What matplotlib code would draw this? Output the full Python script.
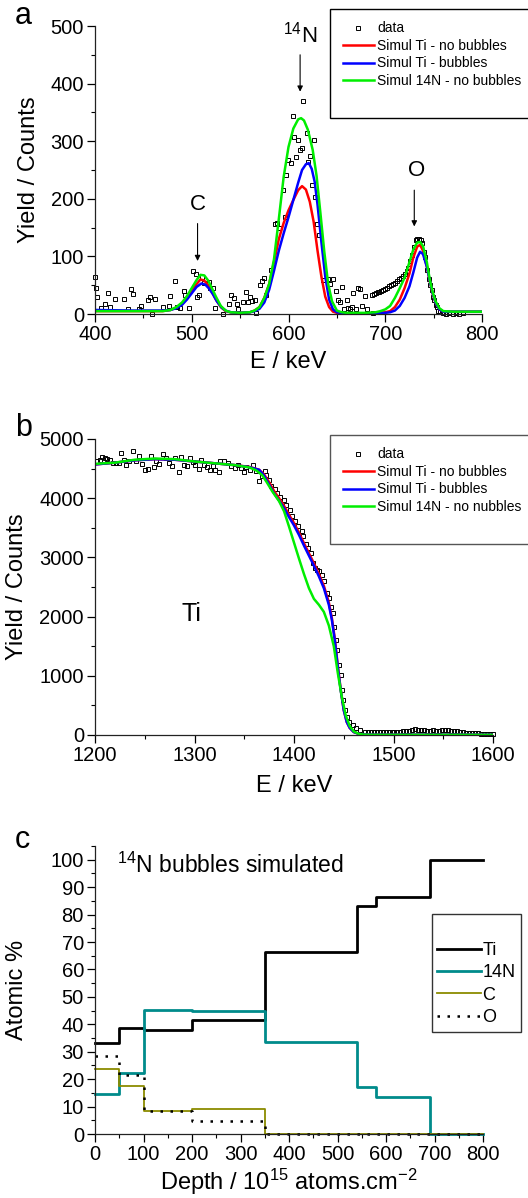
import matplotlib
matplotlib.use("Agg")
import matplotlib.pyplot as plt
from matplotlib.lines import Line2D
from matplotlib.ticker import MultipleLocator

plt.rcParams['font.family'] = ['Liberation Sans', 'DejaVu Sans']
plt.rcParams['mathtext.fontset'] = 'custom'
plt.rcParams['mathtext.rm'] = 'Liberation Sans'

# ---- panel a : light elements region ----
a_data_E = [400, 401, 402, 406, 410, 413, 416, 421, 430, 434, 437, 439, 445, 448, 455, 457, 459, 462,
            470, 476, 478, 483, 485, 488, 492, 493, 497, 501, 504, 505, 507, 511, 513, 518, 519, 522,
            524, 532, 538, 541, 544, 547, 548, 553, 556, 558, 560, 562, 565, 566, 571, 573, 575, 577,
            582, 586, 588, 590, 594, 596, 597, 599, 603, 605, 606, 608, 610, 612, 614, 615, 619, 620,
            622, 624, 626, 627, 629, 632, 636, 641, 643, 646, 649, 651, 653, 655, 657, 660, 662, 664,
            666, 667, 670, 672, 674, 676, 679, 681, 687,
            686, 688, 690, 692, 694, 696, 698, 700, 702, 704, 706, 708, 710, 712, 714, 716, 718, 720,
            722, 724, 726, 728, 730, 732, 733, 735, 737, 738, 740, 741, 743, 745, 746, 748, 749, 750,
            752, 753, 755, 757, 760, 763, 766, 770, 773, 776, 780]
a_data_Y = [65, 45, 30, 10, 18, 36, 13, 26, 26, 8, 43, 34, 8, 14, 25, 30, 0, 26,
            12, 14, 32, 57, 13, 10, 40, 33, 10, 75, 70, 30, 33, 65, 54, 56, 46, 46,
            10, 0, 17, 33, 27, 17, 8, 21, 39, 20, 29, 23, 24, 1, 50, 58, 63, 33,
            76, 157, 158, 149, 216, 169, 241, 268, 262, 344, 307, 272, 302, 285, 288, 370, 315, 264,
            274, 224, 302, 203, 156, 137, 59, 60, 52, 60, 40, 24, 21, 47, 8, 25, 10, 9,
            12, 36, 8, 46, 44, 14, 31, 8, 2,
            33, 35, 37, 38, 39, 40, 42, 43, 45, 48, 50, 52, 54, 57, 60, 63, 66, 70,
            74, 80, 92, 102, 117, 128, 130, 131, 129, 124, 108, 99, 76, 60, 50, 42, 30, 25,
            15, 12, 5, 3, 1, 0, 1, 0, 1, 0, 1]

a_red_E = [400, 440, 470, 478, 484, 490, 495, 500, 505, 509, 513, 517, 521, 525, 530, 535, 540, 550,
           560, 565, 570, 575, 580, 585, 590, 595, 600, 605, 610, 614, 618, 622, 626, 630, 634, 638,
           642, 646, 650, 660, 680, 690, 700, 705, 710, 715, 720, 725, 729, 733, 736, 739, 743, 746,
           749, 752, 756, 760, 770, 800]
a_red_Y = [5, 5, 5, 7, 11, 18, 28, 40, 52, 60, 58, 50, 38, 25, 12, 5, 3, 2,
           3, 6, 12, 28, 52, 90, 130, 158, 180, 198, 215, 222, 216, 195, 160, 110, 65, 30,
           12, 4, 2, 1, 1, 2, 3, 5, 12, 25, 45, 70, 98, 117, 120, 110, 82, 57,
           35, 20, 8, 4, 4, 4]

a_blue_E = [400, 440, 470, 478, 484, 490, 495, 500, 505, 510, 514, 518, 522, 526, 531, 536, 541, 550,
            560, 565, 570, 575, 580, 585, 590, 595, 600, 605, 610, 614, 618, 621, 624, 627, 630, 634,
            638, 642, 646, 650, 660, 690, 700, 705, 710, 715, 720, 725, 729, 733, 736, 739, 743, 746,
            749, 752, 756, 760, 770, 800]
a_blue_Y = [7, 6, 6, 7, 10, 16, 25, 36, 47, 53, 51, 44, 34, 22, 11, 5, 3, 2,
            3, 5, 9, 20, 42, 75, 110, 140, 168, 198, 228, 250, 260, 262, 252, 230, 190, 125,
            65, 25, 8, 3, 1, 1, 2, 3, 6, 14, 28, 48, 72, 98, 108, 104, 82, 58,
            36, 20, 8, 4, 4, 4]

a_green_E = [400, 440, 470, 478, 484, 490, 495, 500, 505, 509, 513, 517, 521, 525, 530, 535, 540, 550,
             560, 565, 570, 575, 580, 585, 590, 595, 600, 605, 610, 613, 616, 620, 625, 629, 633, 637,
             641, 645, 650, 655, 660, 680, 690, 695, 700, 705, 710, 715, 720, 725, 729, 733, 736, 739,
             743, 746, 749, 752, 756, 760, 770, 800]
a_green_Y = [5, 5, 5, 7, 12, 20, 31, 45, 59, 68, 67, 58, 44, 30, 14, 6, 3, 2,
             3, 6, 12, 28, 52, 95, 165, 238, 290, 322, 338, 340, 336, 320, 285, 240, 175, 108,
             52, 22, 6, 3, 2, 2, 3, 5, 8, 14, 28, 45, 63, 90, 112, 124, 125, 118,
             90, 60, 38, 22, 10, 5, 4, 4]

# ---- panel b : Ti edge ----
b_data_E = [1202, 1205, 1207, 1210, 1212, 1215, 1218, 1221, 1224, 1226, 1229, 1231, 1234, 1238, 1241,
            1244, 1247, 1250, 1253, 1256, 1259, 1261, 1264, 1268, 1271, 1274, 1277, 1280, 1284, 1286,
            1289, 1292, 1295, 1298, 1301, 1305, 1307, 1310, 1313, 1316, 1319, 1321, 1325, 1326, 1330,
            1334, 1337, 1341, 1344, 1347, 1350, 1352, 1356, 1359, 1362, 1365, 1368, 1371, 1372,
            1375, 1377, 1381, 1383, 1386, 1390, 1392, 1396, 1398, 1401, 1404, 1408, 1409, 1412, 1414,
            1417, 1419, 1421, 1423, 1425, 1428, 1430, 1433, 1435, 1437, 1439, 1440, 1442, 1443, 1445,
            1447, 1448, 1449, 1451, 1453, 1455, 1459, 1462, 1466, 1471, 1474, 1477, 1480, 1483, 1486,
            1489, 1492, 1495, 1498, 1501, 1504, 1507, 1510, 1513, 1516, 1519, 1522, 1525, 1528, 1531,
            1534, 1537, 1540, 1543, 1546, 1549, 1552, 1555, 1558, 1561, 1564, 1567, 1570, 1573, 1576,
            1579, 1582, 1585, 1588, 1591, 1594, 1597, 1600]
b_data_Y = [4622, 4650, 4696, 4679, 4662, 4640, 4594, 4594, 4594, 4763, 4650, 4566, 4622, 4792, 4622,
            4707, 4583, 4482, 4493, 4718, 4527, 4622, 4583, 4752, 4679, 4594, 4549, 4679, 4436, 4696,
            4566, 4549, 4679, 4605, 4566, 4493, 4640, 4566, 4527, 4470, 4549, 4482, 4436, 4622, 4622,
            4594, 4549, 4510, 4566, 4510, 4436, 4527, 4482, 4566, 4453, 4284, 4369, 4453, 4397,
            4313, 4200, 4155, 4087, 4020, 3963, 3890, 3794, 3692, 3608, 3523, 3438, 3354, 3230, 3157,
            3072, 2903, 2819, 2790, 2762, 2706, 2593, 2396, 2311, 2170, 2058, 1832, 1607, 1438, 1184,
            1015, 761, 592, 423, 310, 225, 169, 113, 85, 56, 50, 48, 45, 45, 47,
            45, 48, 45, 47, 50, 52, 55, 60, 70, 75, 85, 95, 90, 85, 80,
            70, 75, 80, 70, 75, 80, 85, 80, 75, 65, 60, 50, 45, 40, 35,
            30, 30, 28, 25, 25, 22, 20, 20]

b_red_E = [1200, 1220, 1240, 1260, 1280, 1300, 1320, 1340, 1355, 1365, 1370, 1375, 1380, 1385, 1390,
           1395, 1400, 1405, 1410, 1415, 1420, 1425, 1430, 1435, 1438, 1441, 1444, 1447, 1450, 1453,
           1456, 1460, 1465, 1470, 1480, 1500, 1600]
b_red_Y = [4570, 4600, 4640, 4660, 4650, 4620, 4590, 4560, 4530, 4480, 4400, 4270, 4120, 4000, 3870,
           3720, 3580, 3420, 3240, 3070, 2900, 2720, 2520, 2240, 1980, 1630, 1170, 760, 420, 220,
           120, 50, 20, 8, 5, 5, 5]
b_blue_Y = [4570, 4600, 4640, 4660, 4650, 4620, 4590, 4560, 4525, 4480, 4380, 4230, 4080, 3960, 3830,
            3680, 3540, 3380, 3200, 3030, 2860, 2680, 2480, 2200, 1950, 1600, 1150, 750, 420, 220,
            120, 50, 20, 8, 5, 5, 5]

b_green_E = [1200, 1220, 1240, 1260, 1280, 1300, 1320, 1340, 1355, 1362, 1368, 1373, 1378, 1385, 1390,
             1395, 1400, 1405, 1410, 1415, 1420, 1425, 1430, 1435, 1440, 1444, 1448, 1452, 1456, 1460,
             1465, 1470, 1480, 1500, 1600]
b_green_Y = [4580, 4600, 4650, 4670, 4660, 4620, 4590, 4560, 4520, 4470, 4390, 4260, 4120, 3950, 3780,
             3520, 3250, 2980, 2720, 2480, 2300, 2200, 2080, 1850, 1500, 1050, 650, 330, 150, 60,
             20, 6, 3, 3, 3]

# ---- panel c : depth profile (layer boundaries + atomic %) ----
depth = [0, 50, 100, 200, 350, 540, 580, 690, 800]
ti = [33, 38.8, 38, 41.6, 66.5, 83, 86.5, 100, 100]
n14 = [14.7, 22.2, 45.3, 44.7, 33.4, 17, 13.5, 0, 0]
carbon = [23.7, 17.4, 8.5, 9.2, 0, 0, 0, 0, 0]
oxygen = [28.5, 21.6, 8.3, 4.6, 0, 0, 0, 0, 0]

fig = plt.figure(figsize=(5.28, 11.98), dpi=100)
W, H = 528, 1198


def box(l, t, r, b):
    return [l / W, 1 - b / H, (r - l) / W, (b - t) / H]


def style(ax, xmaj, xmin, ymaj, ymin):
    for s in ['top', 'right']:
        ax.spines[s].set_visible(False)
    for s in ['left', 'bottom']:
        ax.spines[s].set_linewidth(0.9)
        ax.spines[s].set_color('#222222')
    ax.xaxis.set_major_locator(MultipleLocator(xmaj))
    ax.xaxis.set_minor_locator(MultipleLocator(xmin))
    ax.yaxis.set_major_locator(MultipleLocator(ymaj))
    ax.yaxis.set_minor_locator(MultipleLocator(ymin))
    ax.tick_params(which='major', direction='out', length=6, width=0.9, labelsize=14.5, pad=2)
    ax.tick_params(which='minor', direction='out', length=3, width=0.8)


leg_kw = dict(loc='upper left', bbox_transform=fig.transFigure, fontsize=10, frameon=True,
              fancybox=False, framealpha=1, borderaxespad=0, handlelength=2.3,
              handletextpad=0.2, labelspacing=0.25, borderpad=0.9)

# panel a
ax1 = fig.add_axes(box(95, 26, 482, 314))
ax1.plot(a_data_E, a_data_Y, 's', ms=3.3, mfc='none', mec='k', mew=0.7, label='data', clip_on=False)
ax1.plot(a_red_E, a_red_Y, color='#ff0000', lw=1.8, label='Simul Ti - no bubbles')
ax1.plot(a_blue_E, a_blue_Y, color='#0000ff', lw=1.8, label='Simul Ti - bubbles')
ax1.plot(a_green_E, a_green_Y, color='#00ee00', lw=1.8, label='Simul 14N - no bubbles')
ax1.set_xlim(400, 800)
ax1.set_ylim(0, 500)
style(ax1, 100, 50, 100, 50)
ax1.set_xlabel('E / keV', fontsize=17)
ax1.set_ylabel('Yield / Counts', fontsize=17)
ax1.yaxis.set_label_coords(-0.142, 0.5)
ax1.xaxis.set_label_coords(0.5, -0.13)

arrow = dict(arrowstyle='-|>', color='k', lw=0.8, mutation_scale=8, shrinkA=0, shrinkB=0)
ax1.text(506, 190, 'C', fontsize=16, ha='center', va='center')
ax1.annotate('', xy=(506, 92), xytext=(506, 157), arrowprops=arrow)
ax1.text(612, 486, '$\\mathregular{^{14}}$N', fontsize=16, ha='center', va='center')
ax1.annotate('', xy=(612, 386), xytext=(612, 450), arrowprops=arrow)
ax1.text(732, 250, 'O', fontsize=16, ha='center', va='center')
ax1.annotate('', xy=(730, 152), xytext=(730, 215), arrowprops=arrow)

h, l = ax1.get_legend_handles_labels()
h.append(Line2D([], [], color='none'))
l.append(' ')
ax1.legend(h, l, bbox_to_anchor=(330 / W, 1 - 9 / H), edgecolor='k', **leg_kw)
fig.text(15 / W, 1 - 16 / H, 'a', fontsize=22, va='center', ha='left')

# panel b
ax2 = fig.add_axes(box(95, 439, 493, 735))
ax2.plot(b_data_E, b_data_Y, 's', ms=3.3, mfc='none', mec='k', mew=0.7, label='data', clip_on=False)
ax2.plot(b_red_E, b_red_Y, color='#ff0000', lw=1.8, label='Simul Ti - no bubbles')
ax2.plot(b_red_E, b_blue_Y, color='#0000ff', lw=1.8, label='Simul Ti - bubbles')
ax2.plot(b_green_E, b_green_Y, color='#00ee00', lw=1.8, label='Simul 14N - no nubbles')
ax2.set_xlim(1200, 1600)
ax2.set_ylim(0, 5000)
style(ax2, 100, 50, 1000, 500)
ax2.set_xlabel('E / keV', fontsize=17)
ax2.set_ylabel('Yield / Counts', fontsize=17)
ax2.yaxis.set_label_coords(-0.168, 0.5)
ax2.xaxis.set_label_coords(0.5, -0.135)
ax2.text(1297, 2050, 'Ti', fontsize=18, ha='center', va='center')

h, l = ax2.get_legend_handles_labels()
h.append(Line2D([], [], color='none'))
l.append(' ')
ax2.legend(h, l, bbox_to_anchor=(330 / W, 1 - 435 / H), edgecolor='#555555', **leg_kw)
fig.text(15 / W, 1 - 428 / H, 'b', fontsize=22, va='center', ha='left')

# panel c
ax3 = fig.add_axes(box(95, 846, 483, 1134))
ax3.step(depth, ti, where='post', color='k', lw=2, label='Ti', clip_on=False)
ax3.step(depth, n14, where='post', color='#008b8b', lw=2, label='14N', clip_on=False)
ax3.step(depth, carbon, where='post', color='#8b8b00', lw=1.3, label='C', clip_on=False)
ax3.step(depth, oxygen, where='post', color='k', lw=1.8, ls=(0, (1, 3)), label='O', clip_on=False)
ax3.set_xlim(0, 800)
ax3.set_ylim(0, 105)
style(ax3, 100, 50, 10, 5)
ax3.set_xlabel('Depth / 10$\\mathregular{^{15}}$ atoms.cm$\\mathregular{^{-2}}$', fontsize=17)
ax3.set_ylabel('Atomic %', fontsize=17)
ax3.yaxis.set_label_coords(-0.173, 0.5)
ax3.xaxis.set_label_coords(0.5, -0.115)
ax3.text(45, 98, '$\\mathregular{^{14}}$N bubbles simulated', fontsize=16.5, ha='left', va='center')
ax3.legend(loc='upper left', bbox_to_anchor=(432 / W, 1 - 914 / H), bbox_transform=fig.transFigure,
           fontsize=13, frameon=True, fancybox=False, edgecolor='#333333', framealpha=1, borderaxespad=0,
           handlelength=2.4, handletextpad=0.1, labelspacing=0.3, borderpad=0.3,
           title=' ', title_fontsize=13)
fig.text(15 / W, 1 - 840 / H, 'c', fontsize=22, va='center', ha='left')

fig.savefig('out.png', dpi=100)
